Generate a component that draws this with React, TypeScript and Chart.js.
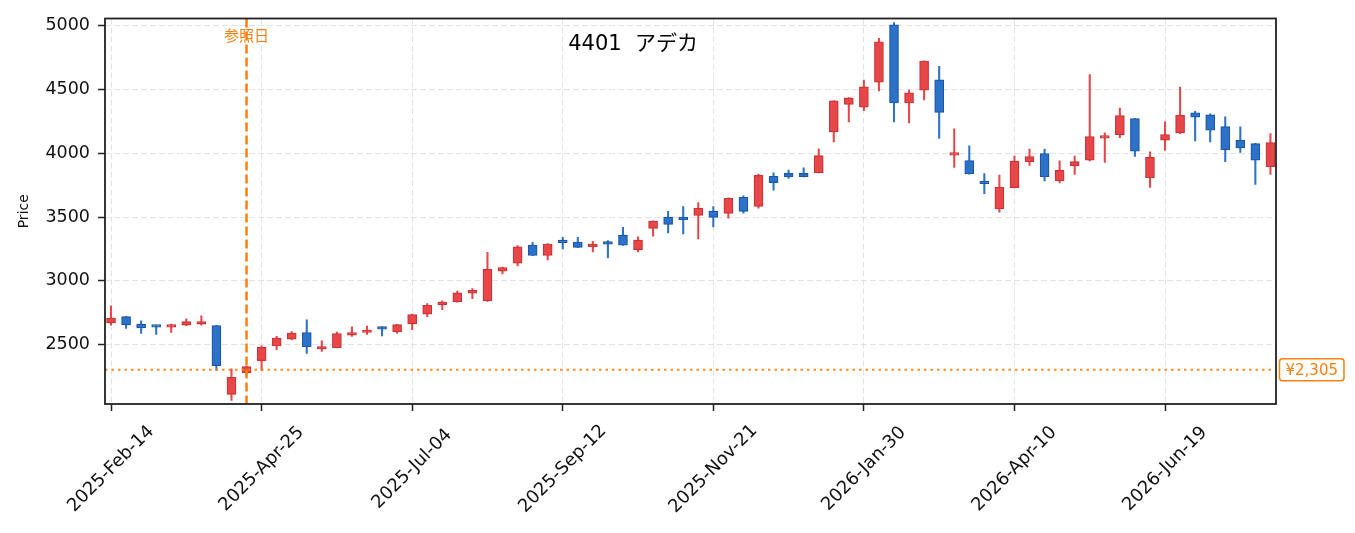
import React, { useEffect, useRef } from "react";
import { Chart, registerables } from "chart.js";

Chart.register(...registerables);

// ---- data (weekly candles, first week = 2025-Feb-14) ----
const openP = [
  2671, 2720, 2661, 2650, 2638, 2653, 2661, 2650, 2111, 2282,
  2376, 2490, 2544, 2596, 2467, 2477, 2576, 2596, 2638, 2601,
  2664, 2739, 2812, 2835, 2903, 2843, 3076, 3139, 3280, 3199,
  3310, 3305, 3269, 3308, 3359, 3245, 3411, 3499, 3487, 3512,
  3546, 3528, 3655, 3583, 3819, 3842, 3842, 3847, 4167, 4382,
  4361, 4556, 5005, 4393, 4494, 4574, 3985, 3943, 3772, 3565,
  3731, 3933, 3998, 3785, 3902, 3946, 4118, 4143, 4271, 3808,
  4102, 4159, 4317, 4301, 4208, 4100, 4076, 3894,
];
const highP = [
  2804, 2722, 2687, 2652, 2661, 2703, 2726, 2652, 2311, 2333,
  2492, 2565, 2604, 2695, 2531, 2599, 2640, 2646, 2640, 2660,
  2740, 2822, 2843, 2921, 2939, 3224, 3108, 3277, 3302, 3292,
  3341, 3341, 3310, 3315, 3419, 3346, 3470, 3544, 3583, 3614,
  3583, 3650, 3666, 3837, 3847, 3868, 3886, 4034, 4412, 4436,
  4572, 4899, 5023, 4494, 4724, 4681, 4190, 4058, 3840, 3829,
  3977, 4032, 4032, 3941, 3977, 4616, 4159, 4354, 4273, 4011,
  4245, 4517, 4328, 4309, 4284, 4206, 4078, 4153,
];
const lowP = [
  2653, 2628, 2588, 2580, 2596, 2650, 2653, 2298, 2064, 2269,
  2298, 2461, 2537, 2432, 2448, 2475, 2565, 2580, 2570, 2588,
  2619, 2720, 2775, 2833, 2861, 2840, 3055, 3118, 3197, 3165,
  3250, 3260, 3227, 3180, 3277, 3227, 3351, 3375, 3367, 3328,
  3422, 3492, 3530, 3570, 3710, 3803, 3814, 3845, 4089, 4245,
  4333, 4488, 4245, 4237, 4418, 4115, 3889, 3835, 3684, 3538,
  3729, 3904, 3783, 3767, 3834, 3940, 3928, 4122, 3974, 3733,
  4021, 4153, 4097, 4089, 3933, 4006, 3756, 3834,
];
const closeP = [
  2708, 2656, 2632, 2638, 2653, 2682, 2682, 2336, 2245, 2329,
  2479, 2552, 2591, 2485, 2485, 2588, 2596, 2607, 2622, 2658,
  2736, 2809, 2835, 2907, 2926, 3090, 3105, 3266, 3199, 3289,
  3300, 3263, 3284, 3287, 3279, 3320, 3468, 3442, 3479, 3569,
  3497, 3647, 3544, 3826, 3770, 3814, 3816, 3982, 4410, 4434,
  4520, 4873, 4393, 4473, 4722, 4320, 3993, 3837, 3762, 3733,
  3938, 3974, 3816, 3865, 3935, 4130, 4130, 4294, 4016, 3967,
  4146, 4297, 4283, 4180, 4027, 4042, 3946, 4083,
];

const xTickIndex = [0, 10, 20, 30, 40, 50, 60, 70];
const xTickLabels = [
  "2025-Feb-14", "2025-Apr-25", "2025-Jul-04", "2025-Sep-12",
  "2025-Nov-21", "2026-Jan-30", "2026-Apr-10", "2026-Jun-19",
];
const yTicks = [2500, 3000, 3500, 4000, 4500, 5000];

const TITLE = "4401  アデカ";
const REF_LABEL = "参照日";
const REF_INDEX = 9;
const REF_PRICE = 2305;

const UP_FILL = "#e8474a";
const UP_EDGE = "#cc3236";
const DOWN_FILL = "#2c72c8";
const DOWN_EDGE = "#1c56a8";
const ORANGE = "#ff7f0e";
const FONT = "'DejaVu Sans', 'Noto Sans CJK JP', sans-serif";

export default function App() {
  const ref = useRef<HTMLCanvasElement | null>(null);

  useEffect(() => {
    if (!ref.current) return;
    const idx = openP.map((_, i) => i);
    const isUp = idx.map((i) => closeP[i] >= openP[i]);

    const overlay = {
      id: "overlay",
      afterDatasetsDraw(chart: any) {
        const { ctx, chartArea: a, scales } = chart;
        const x = scales.x;
        const y = scales.y;
        ctx.save();
        const yp = y.getPixelForValue(REF_PRICE);
        ctx.strokeStyle = "rgba(255,127,14,0.9)";
        ctx.lineWidth = 2;
        ctx.setLineDash([2.5, 4]);
        ctx.beginPath();
        ctx.moveTo(a.left, yp);
        ctx.lineTo(a.right, yp);
        ctx.stroke();
        const xp = x.getPixelForValue(REF_INDEX);
        ctx.strokeStyle = ORANGE;
        ctx.lineWidth = 2.5;
        ctx.setLineDash([9, 4]);
        ctx.beginPath();
        ctx.moveTo(xp, a.top);
        ctx.lineTo(xp, a.bottom);
        ctx.stroke();
        ctx.restore();
      },
      afterDraw(chart: any) {
        const { ctx, chartArea: a, scales } = chart;
        const x = scales.x;
        const y = scales.y;
        ctx.save();
        ctx.strokeStyle = "#222";
        ctx.lineWidth = 1.8;
        ctx.setLineDash([]);
        ctx.strokeRect(a.left, a.top, a.right - a.left, a.bottom - a.top);

        ctx.fillStyle = "#111";
        ctx.font = `18px ${FONT}`;
        ctx.textAlign = "center";
        ctx.textBaseline = "middle";
        xTickIndex.forEach((v, i) => {
          const px = x.getPixelForValue(v);
          ctx.save();
          ctx.translate(px, a.bottom + 65);
          ctx.rotate(-Math.PI / 4);
          ctx.fillText(xTickLabels[i], 0, 0);
          ctx.restore();
        });

        ctx.font = `21px ${FONT}`;
        ctx.fillStyle = "#000";
        ctx.fillText(TITLE, a.left + (a.right - a.left) * 0.451, a.top + 26);

        const xp = x.getPixelForValue(REF_INDEX);
        ctx.font = `15px ${FONT}`;
        ctx.fillStyle = ORANGE;
        ctx.fillText(REF_LABEL, xp, a.top + 19);

        const yp = y.getPixelForValue(REF_PRICE);
        const txt = "¥" + REF_PRICE.toLocaleString("en-US");
        ctx.font = `15px ${FONT}`;
        const w = ctx.measureText(txt).width + 12;
        const h = 22;
        const bx = a.right + 3.5;
        const by = yp - h / 2;
        ctx.fillStyle = "#fff";
        ctx.strokeStyle = ORANGE;
        ctx.lineWidth = 1.5;
        ctx.beginPath();
        (ctx as any).roundRect(bx, by, w, h, 3);
        ctx.fill();
        ctx.stroke();
        ctx.fillStyle = ORANGE;
        ctx.textAlign = "center";
        ctx.fillText(txt, bx + w / 2, yp + 1);
        ctx.restore();
      },
    };

    const chart = new Chart(ref.current, {
      type: "bar",
      data: {
        datasets: [
          {
            label: "body",
            order: 0,
            data: idx.map((i) => ({ x: i, y: [openP[i], closeP[i]] })) as any,
            backgroundColor: isUp.map((u) => (u ? UP_FILL : DOWN_FILL)),
            borderColor: isUp.map((u) => (u ? UP_EDGE : DOWN_EDGE)),
            borderWidth: 1.2,
            borderSkipped: false,
            barThickness: 9,
            minBarLength: 2.5,
            grouped: false,
          } as any,
          {
            label: "wick",
            order: 1,
            data: idx.map((i) => ({ x: i, y: [lowP[i], highP[i]] })) as any,
            backgroundColor: isUp.map((u) => (u ? UP_FILL : DOWN_FILL)),
            borderWidth: 0,
            barThickness: 1.4,
            grouped: false,
          } as any,
        ],
      },
      options: {
        animation: false,
        responsive: false,
        maintainAspectRatio: false,
        layout: { padding: { left: 0, top: 16, right: 79, bottom: 0 } },
        plugins: { legend: { display: false }, tooltip: { enabled: false } },
        scales: {
          x: {
            type: "linear",
            offset: false,
            min: -0.4,
            max: 77.37,
            afterBuildTicks: (s: any) => {
              s.ticks = xTickIndex.map((v) => ({ value: v }));
            },
            afterFit: (s: any) => {
              s.height = 129;
            },
            ticks: { display: false },
            grid: {
              offset: false,
              color: "#e3e3e3",
              lineWidth: 1,
              tickColor: "#222",
              tickWidth: 1.5,
              tickLength: 7,
            },
            border: { display: false, dash: [6, 3] },
          },
          y: {
            type: "linear",
            min: 2036,
            max: 5055,
            afterBuildTicks: (s: any) => {
              s.ticks = yTicks.map((v) => ({ value: v }));
            },
            afterFit: (s: any) => {
              s.width = 105;
            },
            ticks: {
              color: "#111",
              padding: 8,
              font: { family: FONT, size: 17.5 },
              callback: (v: any) => String(v),
            },
            grid: {
              color: "#e3e3e3",
              lineWidth: 1,
              tickColor: "#222",
              tickWidth: 1.5,
              tickLength: 7,
            },
            border: { display: false, dash: [6, 3] },
            title: {
              display: true,
              text: "Price",
              color: "#111",
              font: { family: FONT, size: 14 },
              padding: { top: 16, bottom: 0 },
            },
          },
        },
      } as any,
      plugins: [overlay],
    });
    return () => chart.destroy();
  }, []);

  return (
    <div style={{ position: "fixed", left: 0, top: 0, width: 1355, height: 533, background: "#fff" }}>
      <canvas ref={ref} width={1355} height={533} style={{ width: 1355, height: 533, display: "block" }} />
    </div>
  );
}
